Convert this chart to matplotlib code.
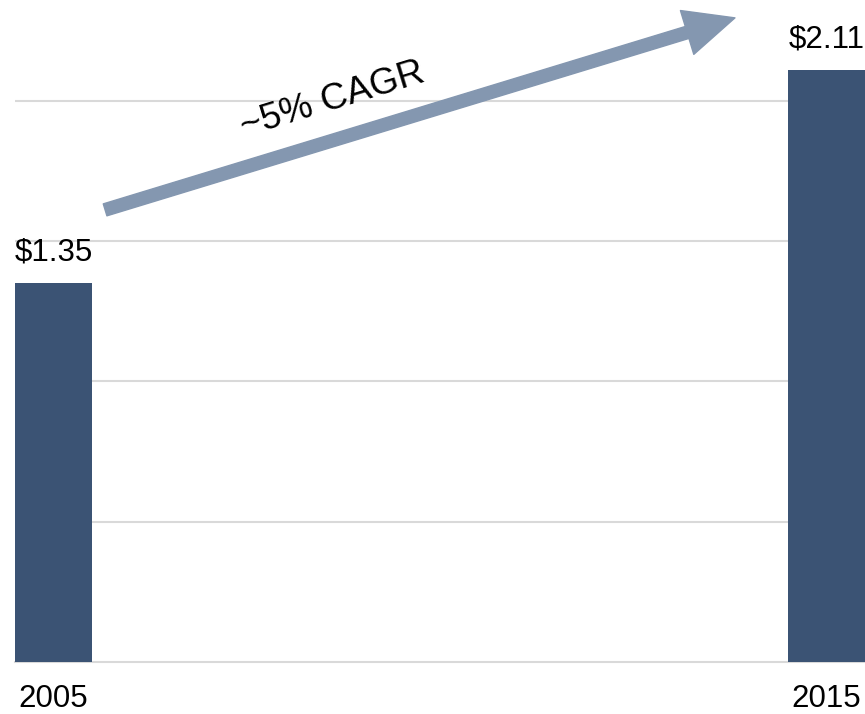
import matplotlib
matplotlib.use("Agg")
import matplotlib.pyplot as plt
from matplotlib.patches import FancyArrowPatch

years = ["2005", "2015"]
values = [1.35, 2.11]
value_labels = ["$1.35", "$2.11"]
growth_label = "~5% CAGR"

plt.rcParams["font.family"] = ["Liberation Sans", "DejaVu Sans"]

fig = plt.figure(figsize=(8.65, 7.14), dpi=100)
ax = fig.add_axes([15 / 865, 52 / 714, 850 / 865, 662 / 714])

x = range(len(years))
bars = ax.bar(x, values, width=0.1, color="#3b5374", zorder=3)

ax.set_xlim(-0.05, 1.05)
ax.set_ylim(0, 2.358)
ax.set_yticks([0.5, 1.0, 1.5, 2.0])
ax.yaxis.grid(True, color="#d9d9d9", linewidth=1.5, zorder=0)
ax.tick_params(axis="y", left=False, labelleft=False)
ax.set_xticks(list(x))
ax.set_xticklabels(years, fontsize=22.5)
ax.tick_params(axis="x", length=0, pad=16)

for s in ["top", "right", "left"]:
    ax.spines[s].set_visible(False)
ax.spines["bottom"].set_color("#d9d9d9")
ax.spines["bottom"].set_linewidth(1.5)

for bar, lab in zip(bars, value_labels):
    ax.annotate(lab, (bar.get_x() + bar.get_width() / 2, bar.get_height()),
                xytext=(0, 11), textcoords="offset points",
                ha="center", va="bottom", fontsize=22.5)

# growth arrow between the two bars
arrow = FancyArrowPatch((0.106, 0.683), (0.847, 0.973),
                        transform=ax.transAxes,
                        arrowstyle="simple,head_length=36,head_width=33,tail_width=9",
                        mutation_scale=1, shrinkA=0, shrinkB=0,
                        color="#8497b0", zorder=4, clip_on=False)
ax.add_patch(arrow)
ax.text(0.374, 0.849, growth_label, transform=ax.transAxes, rotation=17,
        rotation_mode="anchor", ha="center", va="center", fontsize=26.5)

fig.savefig("out.png", dpi=100)
